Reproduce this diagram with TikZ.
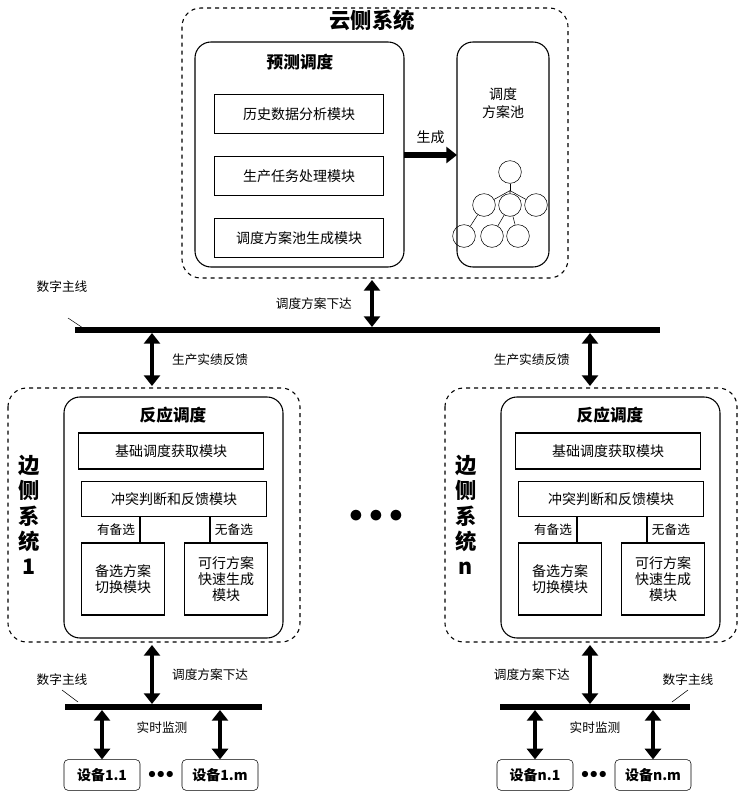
\documentclass[tikz,border=0pt]{standalone}
\usepackage{fontspec}
\setmainfont{Noto Sans CJK SC}
\usetikzlibrary{positioning}
\usetikzlibrary{arrows.meta}
\tikzset{
  dbox/.style={draw,dashed,thick,rounded corners=14pt},
  rbox/.style={draw,thick,rounded corners=12pt},
  mod/.style={draw,thick,inner sep=0pt,font=\fontsize{10.5}{12}\selectfont,align=center},
  dev/.style={draw,rounded corners=3pt,inner sep=0pt,minimum width=57pt,minimum height=23pt,font=\bfseries\fontsize{10.5}{12}\selectfont},
  lbl/.style={font=\fontsize{9.5}{11}\selectfont},
  ttl/.style={font=\bfseries\fontsize{12.5}{14}\selectfont},
  bus/.style={line width=4.5pt},
  dbl/.style={line width=3.5pt,{Triangle[length=8pt,width=12pt]}-{Triangle[length=8pt,width=12pt]}},
  tn/.style={draw,circle,minimum size=17pt,inner sep=0pt}
}
\begin{document}
\begin{tikzpicture}[x=0.75pt,y=-0.75pt]
	\useasboundingbox (0,0) rectangle (744,800);
	% cloud side
	\draw[dbox] (182,8) rectangle (568,278);
	\node[font=\bfseries\fontsize{16}{18}\selectfont] (cloud) at (372,20) {云侧系统};
	\draw[rbox] (195,42) rectangle (404,267);
	\node[ttl] (pred) at (300,62) {预测调度};
	\node[mod,minimum width=127pt,minimum height=29pt] (m1) at (299,114) {历史数据分析模块};
	\node[mod,minimum width=127pt,minimum height=29pt] (m2) at (299,176) {生产任务处理模块};
	\node[mod,minimum width=127pt,minimum height=29pt] (m3) at (299,238) {调度方案池生成模块};
	\draw[rbox] (457,42) rectangle (549,267);
	\node[font=\fontsize{10.5}{13}\selectfont,align=center] (pool) at (503,103) {调度\\方案池};
	\coordinate (gA) at (404,155);
	\coordinate (gB) at (457,155);
	\draw[line width=4pt,-{Triangle[length=8pt,width=12pt]}] (gA) -- (gB) node[midway,above=3pt,lbl,font=\fontsize{10.5}{12}\selectfont]{生成};
	% tree
	\node[tn] (t0) at (510,172) {};
	\node[tn] (t1) at (484,205) {};
	\node[tn] (t2) at (510,205) {};
	\node[tn] (t3) at (536,205) {};
	\node[tn] (t4) at (464,236) {};
	\node[tn] (t5) at (492,236) {};
	\node[tn] (t6) at (518,236) {};
	\draw (t0.south) -- ++(0,7) coordinate (tj);
	\draw (tj) -- (t1) (tj) -- (t2) (tj) -- (t3);
	\draw (t1) -- (t4) (t2) -- (t5) (t2) -- (t6);
	% main bus
	\coordinate (busL) at (75,330);
	\coordinate (busR) at (660,330);
	\draw[bus] (busL) -- (busR);
	\node[lbl] (dbus) at (62,287) {数字主线};
	\draw (68,318) -- (86,330);
	\draw[dbl] (372,280) -- (372,327) node[midway,left=10pt,lbl]{调度方案下达};
	\draw[dbl] (152,333) -- (152,386) node[midway,right=10pt,lbl]{生产实绩反馈};
	\draw[dbl] (590,333) -- (590,386) node[midway,left=10pt,lbl]{生产实绩反馈};
	\node[font=\fontsize{22}{22}\selectfont] (dots) at (376,516) {$\bullet\bullet\bullet$};
	% edge sides
	\foreach \dx/\k in {0/1,437/n}{
		\begin{scope}[xshift=\dx*0.75pt]
			\draw[dbox] (8,388) rectangle (300,642);
			\node[font=\bfseries\fontsize{16}{19}\selectfont,align=center] (side\k) at (29,515) {边\\侧\\系\\统\\\k};
			\draw[rbox] (64,397) rectangle (283,638);
			\node[ttl] (react\k) at (173,415) {反应调度};
			\node[mod,minimum width=139pt,minimum height=27pt] (base\k) at (171,451) {基础调度获取模块};
			\node[mod,minimum width=139pt,minimum height=26pt] (conf\k) at (174,499) {冲突判断和反馈模块};
			\node[mod,minimum width=62pt,minimum height=54pt] (alt\k) at (123,579) {备选方案\\切换模块};
			\node[mod,minimum width=62pt,minimum height=54pt] (feas\k) at (226,579) {可行方案\\快速生成\\模块};
			\draw[thick] (conf\k.south -| 140,0) -- (alt\k.north -| 140,0) node[midway,left,lbl]{有备选};
			\draw[thick] (conf\k.south -| 210,0) -- (feas\k.north -| 210,0) node[midway,right,lbl]{无备选};
		\end{scope}
	}
	% left bottom
	\draw[bus] (65,707) -- (262,707);
	\draw[dbl] (152,645) -- (152,704) node[midway,right=10pt,lbl]{调度方案下达};
	\node[lbl] (dbus1) at (62,680) {数字主线};
	\draw (62,690) -- (78,702);
	\node[dev] (d11) at (102,775) {设备1.1};
	\node[dev] (d1m) at (220,775) {设备1.m};
	\node[font=\fontsize{13}{13}\selectfont] at (161,775) {$\bullet\!\bullet\!\bullet$};
	\draw[dbl] (102,710) -- (d11.north);
	\draw[dbl] (220,710) -- (d1m.north);
	\node[lbl] (mon1) at (162,728) {实时监测};
	% right bottom
	\draw[bus] (500,707) -- (690,707);
	\draw[dbl] (590,645) -- (590,704) node[midway,left=10pt,lbl]{调度方案下达};
	\node[lbl] (dbusn) at (688,680) {数字主线};
	\draw (688,690) -- (672,702);
	\node[dev] (dn1) at (535,775) {设备n.1};
	\node[dev] (dnm) at (653,775) {设备n.m};
	\node[font=\fontsize{13}{13}\selectfont] at (594,775) {$\bullet\!\bullet\!\bullet$};
	\draw[dbl] (535,710) -- (dn1.north);
	\draw[dbl] (653,710) -- (dnm.north);
	\node[lbl] (monn) at (595,728) {实时监测};
\end{tikzpicture}
\end{document}
